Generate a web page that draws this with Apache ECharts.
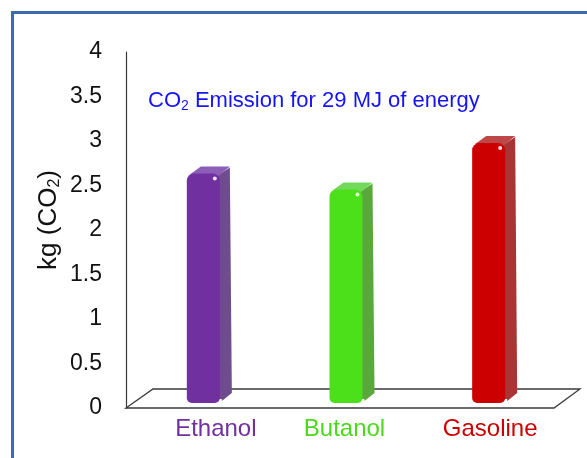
<!DOCTYPE html>
<html>
<head>
<meta charset="utf-8">
<script src="https://cdn.jsdelivr.net/npm/echarts@6/dist/echarts.min.js"></script>
<style>
html,body{margin:0;padding:0;background:#fff;}
#c{width:587px;height:458px;}
</style>
</head>
<body>
<div id="c"></div>
<script>
const categories = ['Ethanol', 'Butanol', 'Gasoline'];
const values = [2.58, 2.40, 2.92];
const yTicks = [0, 0.5, 1, 1.5, 2, 2.5, 3, 3.5, 4];

const frontColors = ['#7030A0', '#4CE01A', '#CC0000'];
const sideColors = ['#6E4C8E', '#58A83C', '#A83434'];
const topColors = ['#8C5EB8', '#72D95A', '#BE4848'];
const labelColors = ['#7030A0', '#4CD81C', '#CC0000'];
const labelShift = [37, 9, 15];
const FONT = 'Liberation Sans, Arial, sans-serif';

const chart = echarts.init(document.getElementById('c'), null, {renderer: 'canvas'});

const DX = 6, DY = -5, W = 33, SD = 12, SH = 8;

function barItem(params, api) {
  const i = api.value(0);
  const v = api.value(1);
  const p0 = api.coord([i, 0]);
  const p1 = api.coord([i, v]);
  const cx = p0[0] + DX;
  const xl = cx - W / 2, xr = cx + W / 2;
  const yb = p0[1] + DY, yt = p1[1] + DY;
  const front = frontColors[i], side = sideColors[i], top = topColors[i];
  return {
    type: 'group',
    children: [
      {type: 'polygon', shape: {points: [[xr - 2, yt + 2], [xr + SD - 2, yt - SH + 2], [xr + SD, yb - SH - 2], [xr + 2, yb - 2]]},
       style: {fill: side}},
      {type: 'polygon', shape: {points: [[xl + 3, yt + 1], [xl + SD + 2, yt - SH + 1], [xr + SD - 2, yt - SH + 1], [xr - 2, yt + 3]]},
       style: {fill: top}},
      {type: 'rect', shape: {x: xr - 3, y: yt + 6, width: 6, height: yb - yt - 10},
       style: {fill: side}},
      {type: 'rect', shape: {x: xl, y: yt, width: W, height: yb - yt, r: [7, 7, 5, 5]},
       style: {fill: front}},
      {type: 'circle', shape: {cx: xr - 5, cy: yt + 5, r: 2},
       style: {fill: 'rgba(255,255,255,0.85)'}}
    ]
  };
}

function floorItem(params, api) {
  const cs = params.coordSys;
  const x0 = cs.x, x1 = cs.x + cs.width, y0 = cs.y + cs.height;
  return {
    type: 'polygon',
    shape: {points: [[x0, y0], [x1, y0], [x1 + 26, y0 - 19], [x0 + 27, y0 - 19]]},
    style: {fill: '#fff', stroke: '#3a3a3a', lineWidth: 1.3}
  };
}

const labelRich = {};
categories.forEach((c, i) => {
  labelRich['c' + i] = {color: labelColors[i], fontSize: 24, fontFamily: FONT, padding: [0, 0, 0, labelShift[i]]};
});

chart.setOption({
  backgroundColor: '#fff',
  animation: false,
  grid: {left: 126, top: 52, right: 33, bottom: 50, containLabel: false},
  title: {
    text: '{a|CO}{s|2}{a| Emission for 29 MJ of energy}',
    left: 143, top: 84,
    textStyle: {
      rich: {
        a: {color: '#1515F0', fontSize: 22, fontWeight: 'normal', fontFamily: FONT},
        s: {color: '#1515F0', fontSize: 14, fontWeight: 'normal', fontFamily: FONT, padding: [10, 0, 0, 0]}
      }
    }
  },
  graphic: [
    {type: 'rect', left: 10, top: 10, shape: {x: 0, y: 0, width: 640, height: 520},
     style: {fill: 'none', stroke: '#3C6AB3', lineWidth: 3}, z: 100, silent: true},
    {type: 'text', x: 49, y: 220, rotation: Math.PI / 2,
     style: {
       text: '{a|kg (CO}{s|2}{a|)}',
       align: 'center', verticalAlign: 'middle',
       rich: {
         a: {fill: '#111', fontSize: 26, fontFamily: FONT},
         s: {fill: '#111', fontSize: 16, fontFamily: FONT, padding: [12, 0, 0, 0]}
       }
     }}
  ],
  xAxis: {
    type: 'category',
    data: categories,
    axisLine: {show: false},
    axisTick: {show: false},
    axisLabel: {
      margin: 9,
      formatter: (v, i) => '{c' + i + '|' + v + '}',
      rich: labelRich
    }
  },
  yAxis: {
    type: 'value',
    min: yTicks[0], max: yTicks[yTicks.length - 1], interval: 0.5,
    axisLine: {show: true, lineStyle: {color: '#3a3a3a', width: 1.2}},
    axisTick: {show: false},
    splitLine: {show: false},
    axisLabel: {
      margin: 24, color: '#111', fontSize: 23, fontFamily: FONT,
      padding: [4, 0, 0, 0]
    }
  },
  series: [
    {type: 'custom', renderItem: floorItem, data: [[0, 0]], silent: true, clip: false, z: 1},
    {type: 'custom', renderItem: barItem, data: values.map((v, i) => [i, v]), clip: false, z: 2,
     encode: {x: 0, y: 1}}
  ]
});
</script>
</body>
</html>
